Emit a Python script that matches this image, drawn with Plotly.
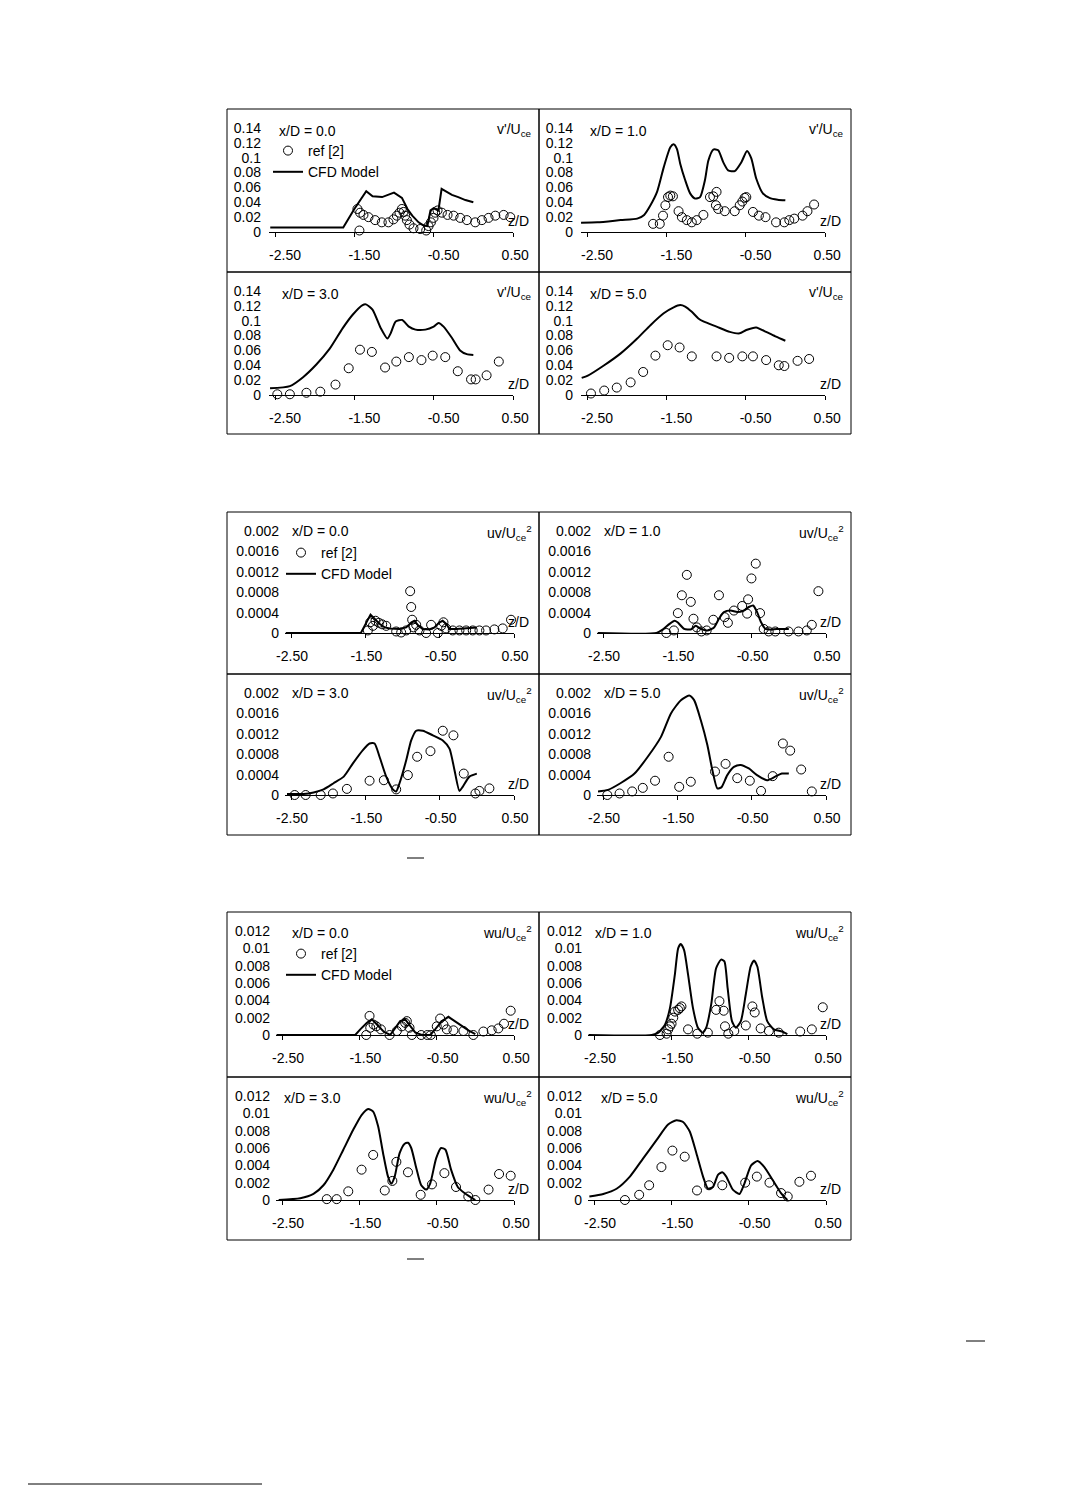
import plotly.graph_objects as go

W, H = 1090, 1486
OFF = 8  # page body margin of the html page
FONT = "Liberation Sans, Arial, sans-serif"
NBSP = "\u00a0"

# ---------------- axis tick data ----------------
z_tickvals = [-2.5, -1.5, -0.5, 0.5]
z_ticktext = ["-2.50", "-1.50", "-0.50", "0.50"]

v_tickvals = [0, 0.02, 0.04, 0.06, 0.08, 0.10, 0.12, 0.14]
v_ticktext = ["0", "0.02", "0.04", "0.06", "0.08", "0.1", "0.12", "0.14"]
uv_tickvals = [0, 0.0004, 0.0008, 0.0012, 0.0016, 0.002]
uv_ticktext = ["0", "0.0004", "0.0008", "0.0012", "0.0016", "0.002"]
wu_tickvals = [0, 0.002, 0.004, 0.006, 0.008, 0.010, 0.012]
wu_ticktext = ["0", "0.002", "0.004", "0.006", "0.008", "0.01", "0.012"]

stations = ["x/D = 0.0", "x/D = 1.0", "x/D = 3.0", "x/D = 5.0"]
quantity_titles = ["v'/U<sub>ce</sub>", "uv/U<sub>ce</sub><sup>2</sup>", "wu/U<sub>ce</sub><sup>2</sup>"]

# ---------------- v'/Uce ----------------
v_x0_cfd_z = [-2.56, -1.64, -1.50, -1.35, -1.27, -1.15, -1.00, -0.90, -0.83, -0.77, -0.69, -0.63,
              -0.58, -0.54, -0.50, -0.44, -0.40, -0.35, -0.27, -0.19, -0.10, 0.0]
v_x0_cfd_y = [0.006, 0.006, 0.031, 0.055, 0.048, 0.047, 0.053, 0.046, 0.031, 0.022, 0.013, 0.009,
              0.008, 0.029, 0.032, 0.029, 0.058, 0.055, 0.050, 0.047, 0.043, 0.040]
v_x0_ref_z = [-1.436, -1.461, -1.427, -1.385, -1.322, -1.238, -1.154, -1.070, -1.007, -0.964, -0.931,
              -0.901, -0.880, -0.859, -0.838, -0.805, -0.754, -0.670, -0.594, -0.565, -0.535, -0.502,
              -0.481, -0.451, -0.397, -0.325, -0.249, -0.165, -0.081, 0.024, 0.108, 0.192, 0.277,
              0.382, 0.466]
v_x0_ref_y = [0.002, 0.031, 0.026, 0.023, 0.020, 0.016, 0.013, 0.013, 0.017, 0.022, 0.026,
              0.031, 0.027, 0.022, 0.016, 0.010, 0.005, 0.004, 0.002, 0.008, 0.013, 0.019,
              0.026, 0.029, 0.026, 0.023, 0.022, 0.019, 0.016, 0.013, 0.016, 0.019, 0.022,
              0.023, 0.020]

v_x1_cfd_z = [-2.575, -2.37, -2.075, -1.867, -1.78, -1.70, -1.617, -1.533, -1.45, -1.408, -1.367,
              -1.325, -1.263, -1.20, -1.138, -1.075, -1.013, -0.971, -0.908, -0.846, -0.783, -0.721,
              -0.638, -0.554, -0.483, -0.429, -0.367, -0.283, -0.20, -0.096, 0.0]
v_x1_cfd_y = [0.0126, 0.013, 0.016, 0.018, 0.023, 0.036, 0.054, 0.087, 0.114, 0.118, 0.112,
              0.092, 0.070, 0.052, 0.045, 0.047, 0.070, 0.096, 0.111, 0.110, 0.094, 0.083,
              0.082, 0.094, 0.109, 0.099, 0.072, 0.052, 0.046, 0.0435, 0.0426]
v_x1_ref_z = [-1.667, -1.583, -1.542, -1.512, -1.479, -1.45, -1.417, -1.346, -1.304, -1.242, -1.179,
              -1.117, -1.033, -0.95, -0.908, -0.867, -0.875, -0.846, -0.763, -0.638, -0.575, -0.542,
              -0.513, -0.492, -0.408, -0.333, -0.25, -0.117, -0.0125, 0.05, 0.1125, 0.217, 0.279,
              0.3625]
v_x1_ref_y = [0.011, 0.011, 0.022, 0.036, 0.047, 0.049, 0.048, 0.028, 0.020, 0.016, 0.013,
              0.016, 0.023, 0.047, 0.048, 0.054, 0.036, 0.031, 0.028, 0.028, 0.036, 0.041,
              0.046, 0.047, 0.027, 0.022, 0.020, 0.013, 0.013, 0.016, 0.018, 0.022, 0.028,
              0.037]

v_x3_cfd_z = [-2.5625, -2.3125, -2.146, -1.979, -1.8125, -1.646, -1.521, -1.396, -1.354, -1.271,
              -1.167, -1.083, -1.042, -0.979, -0.896, -0.8125, -0.729, -0.604, -0.50, -0.4375,
              -0.375, -0.271, -0.167, -0.083, 0.0]
v_x3_cfd_y = [0.009, 0.012, 0.024, 0.041, 0.062, 0.090, 0.108, 0.121, 0.122, 0.115,
              0.090, 0.076, 0.083, 0.099, 0.101, 0.092, 0.088, 0.088, 0.092, 0.097,
              0.092, 0.077, 0.060, 0.055, 0.054]
v_x3_ref_z = [-2.471, -2.3125, -2.104, -1.929, -1.7375, -1.571, -1.429, -1.279, -1.1125, -0.971,
              -0.8125, -0.654, -0.5125, -0.354, -0.196, -0.029, 0.029, 0.167, 0.321]
v_x3_ref_y = [0.001, 0.001, 0.003, 0.0045, 0.014, 0.036, 0.061, 0.058, 0.037, 0.045,
              0.051, 0.047, 0.053, 0.051, 0.032, 0.021, 0.021, 0.0265, 0.045]

v_x5_cfd_z = [-2.567, -2.49, -2.283, -2.075, -1.867, -1.70, -1.533, -1.408, -1.325, -1.2625,
              -1.179, -1.096, -1.033, -0.867, -0.70, -0.575, -0.492, -0.367, -0.242, -0.117, 0.0]
v_x5_cfd_y = [0.023, 0.026, 0.040, 0.056, 0.076, 0.094, 0.110, 0.118, 0.121, 0.119,
              0.112, 0.103, 0.099, 0.092, 0.085, 0.083, 0.0875, 0.091, 0.085, 0.0785, 0.073]
v_x5_ref_z = [-2.45, -2.283, -2.125, -1.95, -1.792, -1.6375, -1.483, -1.333, -1.179, -0.867,
              -0.708, -0.542, -0.408, -0.242, -0.083, -0.0125, 0.154, 0.30]
v_x5_ref_y = [0.002, 0.006, 0.010, 0.017, 0.031, 0.053, 0.067, 0.064, 0.052, 0.052,
              0.050, 0.052, 0.052, 0.047, 0.040, 0.039, 0.046, 0.0485]

# ---------------- uv/Uce^2 ----------------
uv_x0_cfd_z = [-2.57, -1.56, -1.43, -1.38, -1.31, -1.24, -1.17, -1.04, -0.95, -0.88, -0.84,
               -0.79, -0.73, -0.64, -0.57, -0.50, -0.46, -0.41, -0.37, -0.28, -0.14, 0.0]
uv_x0_cfd_y = [0, 0, 0.00036, 0.00028, 0.00018, 0.00011, 0.00009, 0.00008, 0.00011, 0.00021, 0.00024,
               0.00015, 0.00008, 0.00007, 0.00011, 0.00021, 0.00024, 0.00018, 0.00008, 0.00008,
               0.00009, 0.00011]
uv_x0_ref_z = [-1.466, -1.434, -1.398, -1.363, -1.318, -1.273, -1.219, -1.085, -1.018, -0.950,
               -0.897, -0.883, -0.870, -0.852, -0.816, -0.771, -0.682, -0.615, -0.525, -0.480,
               -0.449, -0.413, -0.324, -0.234, -0.144, -0.055, 0.035, 0.124, 0.236, 0.348, 0.460]
uv_x0_ref_y = [0.00005, 0.00021, 0.00014, 0.00024, 0.00020, 0.00017, 0.00014, 0.00003, 0.00001, 0.00005,
               0.00082, 0.00051, 0.00026, 0.00011, 0.00016, 0.00005, 0.0, 0.00016, 0.0, 0.00014,
               0.00021, 0.00009, 0.00005, 0.00005, 0.00005, 0.00005, 0.00005, 0.00005, 0.00007,
               0.00009, 0.00026]

uv_x1_cfd_z = [-2.57, -1.78, -1.693, -1.604, -1.537, -1.497, -1.408, -1.318, -1.252, -1.185, -1.096,
               -1.006, -0.94, -0.873, -0.784, -0.694, -0.605, -0.538, -0.48, -0.427, -0.373, -0.317,
               -0.249, -0.16, 0.0]
uv_x1_cfd_y = [0, 0, 0.00007, 0.00018, 0.00024, 0.00021, 0.00008, 0.00007, 0.00014, 0.00008, 0.00005,
               0.00011, 0.00028, 0.00041, 0.00044, 0.00041, 0.00044, 0.00051, 0.00054, 0.00041,
               0.00021, 0.00008, 0.00007, 0.00008, 0.00008]
uv_x1_ref_z = [-1.648, -1.546, -1.493, -1.439, -1.372, -1.319, -1.283, -1.238, -1.176, -1.105,
               -1.016, -0.940, -0.864, -0.820, -0.739, -0.628, -0.561, -0.548, -0.503, -0.445,
               -0.387, -0.338, -0.271, -0.182, -0.004, 0.130, 0.242, 0.309, 0.398]
uv_x1_ref_y = [0.0, 0.00005, 0.00039, 0.00074, 0.00114, 0.00061, 0.00028, 0.00011, 0.00003, 0.00005,
               0.00026, 0.00074, 0.00031, 0.00020, 0.00044, 0.00053, 0.00038, 0.00066, 0.00107,
               0.00136, 0.00039, 0.00008, 0.00003, 0.00003, 0.00003, 0.00003, 0.00005, 0.00016,
               0.00082]

uv_x3_cfd_z = [-2.554, -2.33, -2.196, -2.062, -1.928, -1.79, -1.667, -1.533, -1.443, -1.376,
               -1.309, -1.219, -1.13, -1.085, -1.04, -0.95, -0.883, -0.816, -0.727, -0.592,
               -0.458, -0.368, -0.301, -0.234, -0.19, -0.10, 0.0]
uv_x3_cfd_y = [0.00002, 0.00002, 0.00005, 0.00011, 0.00023, 0.00036, 0.00062, 0.00088, 0.00101,
               0.00101, 0.00075, 0.00036, 0.00011, 0.00007, 0.00023, 0.00068, 0.00107, 0.00126,
               0.00126, 0.00117, 0.00107, 0.00091, 0.00049, 0.00008, 0.00016, 0.00036, 0.00042]
uv_x3_ref_z = [-2.451, -2.303, -2.101, -1.936, -1.748, -1.443, -1.251, -1.085, -0.928, -0.803,
               -0.624, -0.458, -0.315, -0.176, -0.019, 0.035, 0.169]
uv_x3_ref_y = [0.0, 0.0, 0.0, 0.00003, 0.00012, 0.00028, 0.00029, 0.00011, 0.00039, 0.00075,
               0.00086, 0.00126, 0.00117, 0.00042, 0.00003, 0.00008, 0.00013]

uv_x5_cfd_z = [-2.567, -2.433, -2.255, -2.076, -1.898, -1.72, -1.586, -1.452, -1.341, -1.274,
               -1.185, -1.096, -1.029, -0.962, -0.908, -0.828, -0.739, -0.65, -0.538, -0.428,
               -0.294, -0.183, -0.094, 0.0]
uv_x5_cfd_y = [0.00007, 0.0001, 0.00024, 0.00042, 0.00075, 0.00114, 0.0016, 0.00186, 0.00195,
               0.00186, 0.00147, 0.00098, 0.00049, 0.00013, 0.00015, 0.00039, 0.00055, 0.00059,
               0.00052, 0.00039, 0.00029, 0.00036, 0.00042, 0.00042]
uv_x5_ref_z = [-2.442, -2.277, -2.108, -1.965, -1.80, -1.617, -1.475, -1.319, -0.993, -0.851,
               -0.694, -0.525, -0.374, -0.217, -0.08, 0.018, 0.166, 0.309]
uv_x5_ref_y = [0.0, 0.00003, 0.00007, 0.00014, 0.00028, 0.00075, 0.00016, 0.00026, 0.00046, 0.00061,
               0.00033, 0.00028, 0.00008, 0.00037, 0.00101, 0.00087, 0.0005, 0.00007]

# ---------------- wu/Uce^2 ----------------
wu_x0_cfd_z = [-2.57, -1.553, -1.488, -1.402, -1.338, -1.273, -1.187, -1.101, -1.036, -0.972, -0.907,
               -0.843, -0.778, -0.692, -0.584, -0.52, -0.434, -0.348, -0.262, -0.175, -0.089, 0.0]
wu_x0_cfd_y = [0, 0, 0.00065, 0.0014, 0.0018, 0.0012, 0.0004, 0.0, 0.00084, 0.0016, 0.0018,
               0.001, 0.0003, 0.0, 0.0, 0.00065, 0.0016, 0.0021, 0.0016, 0.001, 0.00054, 0.0001]
wu_x0_ref_z = [-1.368, -1.411, -1.359, -1.316, -1.28, -1.221, -1.109, -1.015, -0.950, -0.907,
               -0.886, -0.851, -0.821, -0.70, -0.62, -0.576, -0.499, -0.455, -0.412, -0.369,
               -0.283, -0.154, -0.026, 0.104, 0.212, 0.298, 0.371, 0.457]
wu_x0_ref_y = [0.0022, 0.0, 0.00084, 0.0012, 0.001, 0.00065, 0.0, 0.00046, 0.001, 0.0014,
               0.0016, 0.00084, 0.0, 0.0, 0.0, 0.0, 0.001, 0.0019, 0.0012, 0.00065,
               0.00054, 0.00046, 0.0, 0.0004, 0.00054, 0.00076, 0.0013, 0.0028]

wu_x1_cfd_z = [-2.57, -1.753, -1.668, -1.582, -1.518, -1.454, -1.412, -1.378, -1.335, -1.284,
               -1.22, -1.156, -1.092, -1.049, -0.985, -0.921, -0.857, -0.814, -0.772, -0.716,
               -0.665, -0.601, -0.537, -0.474, -0.431, -0.388, -0.324, -0.26, -0.175, -0.068, 0.0]
wu_x1_cfd_y = [0, 0, 0.00027, 0.0012, 0.0031, 0.007, 0.010, 0.0105, 0.0098, 0.007,
               0.0031, 0.00084, 0.00027, 0.00084, 0.0035, 0.0077, 0.0087, 0.0085, 0.0054, 0.0016,
               0.00084, 0.0016, 0.0047, 0.0079, 0.0086, 0.0079, 0.0043, 0.0016, 0.00065, 0.0004,
               0.0001]
wu_x1_ref_z = [-1.647, -1.561, -1.540, -1.518, -1.497, -1.475, -1.454, -1.412, -1.390, -1.369,
               -1.284, -1.164, -1.028, -0.921, -0.878, -0.823, -0.806, -0.763, -0.686, -0.537,
               -0.452, -0.422, -0.345, -0.239, -0.111, 0.166, 0.317, 0.458]
wu_x1_ref_y = [0.0, 0.00015, 0.00065, 0.001, 0.0013, 0.002, 0.0027, 0.0029, 0.0031, 0.0033,
               0.00065, 0.00015, 0.00027, 0.0029, 0.0039, 0.0028, 0.001, 0.00015, 0.00046, 0.0011,
               0.0033, 0.0026, 0.00076, 0.00046, 0.00027, 0.0004, 0.00065, 0.0032]

wu_x3_cfd_z = [-2.543, -2.264, -2.093, -1.964, -1.836, -1.707, -1.579, -1.471, -1.386, -1.321,
               -1.257, -1.193, -1.129, -1.086, -1.043, -0.979, -0.914, -0.871, -0.829, -0.764,
               -0.70, -0.636, -0.584, -0.507, -0.443, -0.386, -0.314, -0.227, -0.141, -0.056, 0.0]
wu_x3_cfd_y = [0.0, 0.0002, 0.0007, 0.0017, 0.0035, 0.0058, 0.0081, 0.0098, 0.0105, 0.0102,
               0.0085, 0.0054, 0.0027, 0.0019, 0.0027, 0.0054, 0.0065, 0.0066, 0.006, 0.0037,
               0.0017, 0.0012, 0.0019, 0.0048, 0.006, 0.0058, 0.0035, 0.0015, 0.0008, 0.0003, 0.0]
wu_x3_ref_z = [-1.921, -1.793, -1.643, -1.471, -1.321, -1.171, -1.073, -1.021, -0.871, -0.707,
               -0.561, -0.40, -0.25, -0.091, 0.0, 0.171, 0.307, 0.457]
wu_x3_ref_y = [0.0001, 0.0001, 0.001, 0.0035, 0.0052, 0.0011, 0.0022, 0.0044, 0.0032, 0.0006,
               0.0018, 0.0031, 0.0015, 0.0004, 0.0, 0.0012, 0.003, 0.0028]

wu_x5_cfd_z = [-2.56, -2.38, -2.208, -2.036, -1.864, -1.692, -1.542, -1.434, -1.348, -1.262,
               -1.176, -1.09, -1.026, -0.962, -0.897, -0.841, -0.79, -0.705, -0.619, -0.555,
               -0.468, -0.383, -0.297, -0.189, -0.082, 0.0]
wu_x5_cfd_y = [0.0004, 0.0007, 0.0013, 0.0027, 0.0048, 0.0069, 0.0087, 0.0092, 0.009, 0.0079,
               0.0054, 0.0027, 0.0013, 0.0015, 0.0029, 0.0032, 0.0027, 0.0012, 0.0007, 0.0019,
               0.004, 0.0045, 0.0038, 0.0023, 0.0008, 0.0]
wu_x5_ref_z = [-2.10, -1.916, -1.787, -1.628, -1.486, -1.327, -1.168, -1.013, -0.841, -0.545,
               -0.394, -0.231, -0.081, 0.005, 0.156, 0.306]
wu_x5_ref_y = [0.0, 0.0006, 0.0017, 0.0038, 0.0057, 0.005, 0.0011, 0.0017, 0.0017, 0.002,
               0.0027, 0.002, 0.0008, 0.0004, 0.0021, 0.0028]

groups_data = [
    [(v_x0_cfd_z, v_x0_cfd_y, v_x0_ref_z, v_x0_ref_y),
     (v_x1_cfd_z, v_x1_cfd_y, v_x1_ref_z, v_x1_ref_y),
     (v_x3_cfd_z, v_x3_cfd_y, v_x3_ref_z, v_x3_ref_y),
     (v_x5_cfd_z, v_x5_cfd_y, v_x5_ref_z, v_x5_ref_y)],
    [(uv_x0_cfd_z, uv_x0_cfd_y, uv_x0_ref_z, uv_x0_ref_y),
     (uv_x1_cfd_z, uv_x1_cfd_y, uv_x1_ref_z, uv_x1_ref_y),
     (uv_x3_cfd_z, uv_x3_cfd_y, uv_x3_ref_z, uv_x3_ref_y),
     (uv_x5_cfd_z, uv_x5_cfd_y, uv_x5_ref_z, uv_x5_ref_y)],
    [(wu_x0_cfd_z, wu_x0_cfd_y, wu_x0_ref_z, wu_x0_ref_y),
     (wu_x1_cfd_z, wu_x1_cfd_y, wu_x1_ref_z, wu_x1_ref_y),
     (wu_x3_cfd_z, wu_x3_cfd_y, wu_x3_ref_z, wu_x3_ref_y),
     (wu_x5_cfd_z, wu_x5_cfd_y, wu_x5_ref_z, wu_x5_ref_y)],
]
group_ticks = [(v_tickvals, v_ticktext), (uv_tickvals, uv_ticktext), (wu_tickvals, wu_ticktext)]

# ---------------- layout geometry (pixels on the page) ----------------
box_lefts = [227, 539]
box_right = 851
group_rows = [(109, 272, 434), (512, 674, 835), (912, 1077, 1240)]
g_x0 = [48, 64, 55]      # px offset of z=-2.5
g_x1 = [286, 287, 287]   # px offset of z=0.5
g_yb = [123, 121, 123]   # px offset of value 0
g_yt = [19, 19, 19]      # px offset of top value
g_lab = [34, 52, 43]     # right edge of y tick labels
g_xshift = [10, 1, 6]    # horizontal shift of the z tick labels
g_lastpad = [4, 0, 2]    # pull the last z label back towards its tick
g_title_x = [[50, 49, 53, 49], [63, 63, 63, 63], [63, 54, 55, 60]]
g_title_y = [22, 19, 21]
g_qx = [268, 258, 254]
g_leg = [(63, 38), (76, 37), (76, 38)]
XMIN, XMAX = -2.58, 0.5

fig = go.Figure()
layout = dict(width=W, height=H, template="none",
              margin=dict(l=0, r=0, t=0, b=0, pad=0, autoexpand=False),
              paper_bgcolor="white", plot_bgcolor="rgba(0,0,0,0)",
              font=dict(family=FONT, size=14, color="black"),
              showlegend=True)
shapes, annotations = [], []


def px(xp):
    return (xp - OFF) / W


def py(yp):
    return 1 - (yp - OFF) / H


n = 0
for g in range(3):
    tv, tt = group_ticks[g]
    top_val = tv[-1]
    ztext = z_ticktext[:-1] + [z_ticktext[-1] + NBSP * g_lastpad[g]]
    for p in range(4):
        n += 1
        row, col = p // 2, p % 2
        bl = box_lefts[col]
        bt = group_rows[g][row]
        bb = group_rows[g][row + 1]
        br = box_right if col == 1 else box_lefts[1]
        shapes.append(dict(type="rect", xref="paper", yref="paper",
                           x0=px(bl), x1=px(br), y0=py(bb), y1=py(bt),
                           line=dict(color="black", width=1)))
        xa, xb = bl + g_x0[g], bl + g_x1[g]
        scale = (xb - xa) / 3.0
        dom_l = xa - (-2.5 - XMIN) * scale
        dom_r = xb
        yb, yt = bt + g_yb[g], bt + g_yt[g]
        x0_px = xa + 2.5 * scale
        sx = "" if n == 1 else str(n)
        layout["xaxis" + sx] = dict(domain=[px(dom_l), px(dom_r)], anchor="y" + sx,
                                   range=[XMIN, XMAX], tickvals=z_tickvals, ticktext=ztext,
                                   showline=True, linecolor="black", linewidth=1,
                                   ticks="outside", ticklen=4, tickcolor="black",
                                   showgrid=False, zeroline=False, ticklabelstandoff=6,
                                   ticklabelshift=g_xshift[g],
                                   automargin=False, tickfont=dict(size=14))
        layout["yaxis" + sx] = dict(domain=[py(yb), py(yt)], anchor="free",
                                   position=px(bl + g_lab[g]), range=[0, top_val],
                                   tickvals=tv, ticktext=tt, showline=False, ticks="",
                                   showgrid=False, zeroline=False, automargin=False,
                                   tickfont=dict(size=14))
        m = n + 12
        layout["yaxis" + str(m)] = dict(domain=[py(yb), py(yt)], overlaying="y" + sx,
                                       anchor="free", position=px(x0_px), range=[0, top_val],
                                       tickvals=tv, showticklabels=False, showline=True,
                                       linecolor="black", linewidth=1, ticks="outside",
                                       ticklen=4, tickcolor="black", showgrid=False,
                                       zeroline=False, side="left", automargin=False)
        cz, cy, rz, ry = groups_data[g][p]
        leg = "legend" if g == 0 else "legend" + str(g + 1)
        jag = (p == 0)
        fig.add_trace(go.Scatter(x=rz, y=ry, mode="markers", name="ref [2]",
                                 marker=dict(symbol="circle-open", size=9,
                                             color="black", line=dict(width=1)),
                                 cliponaxis=False, xaxis="x" + sx, yaxis="y" + sx,
                                 legend=leg, showlegend=(p == 0)))
        fig.add_trace(go.Scatter(x=cz, y=cy, mode="lines", name="CFD Model",
                                 line=dict(color="black", width=2,
                                           shape="linear" if jag else "spline",
                                           smoothing=0.6),
                                 xaxis="x" + sx, yaxis="y" + sx,
                                 legend=leg, showlegend=(p == 0)))
        annotations.append(dict(text=stations[p], xref="paper", yref="paper",
                                x=px(bl + g_title_x[g][p]), y=py(bt + g_title_y[g]),
                                xanchor="left", yanchor="middle", showarrow=False,
                                font=dict(size=14)))
        annotations.append(dict(text=quantity_titles[g], xref="paper", yref="paper",
                                x=px(bl + g_qx[g]), y=py(bt + 21),
                                xanchor="left", yanchor="middle", showarrow=False,
                                font=dict(size=14)))
        annotations.append(dict(text="z/D", xref="paper", yref="paper",
                                x=px(bl + 279), y=py(yb - 11),
                                xanchor="left", yanchor="middle", showarrow=False,
                                font=dict(size=14)))
    lx, ly = g_leg[g]
    bt0 = group_rows[g][0]
    layout["legend" if g == 0 else "legend" + str(g + 1)] = dict(
        x=px(227 + lx - 22), y=py(bt0 + ly - 12), xanchor="left", yanchor="top",
        bgcolor="rgba(0,0,0,0)", borderwidth=0, itemwidth=30,
        font=dict(size=14), tracegroupgap=0)

# page remnants (caption overbars and footnote rule)
for (a, b, yv) in [(407, 424, 858), (407, 424, 1259), (966, 985, 1341), (28, 262, 1484)]:
    shapes.append(dict(type="line", xref="paper", yref="paper",
                       x0=px(a), x1=px(b), y0=py(yv), y1=py(yv),
                       line=dict(color="black", width=1)))

layout["shapes"] = shapes
layout["annotations"] = annotations
fig.update_layout(**layout)
fig.write_html("out.html")
